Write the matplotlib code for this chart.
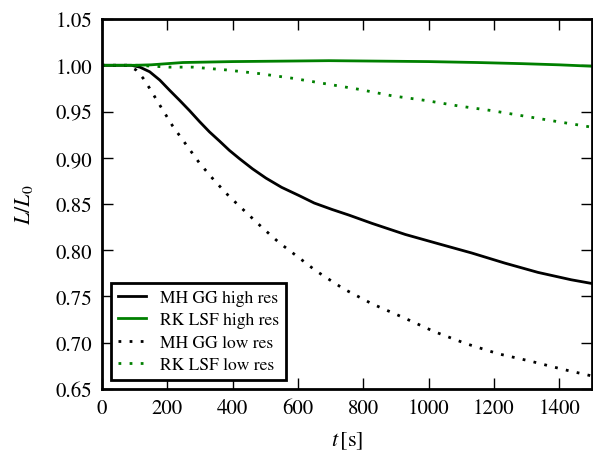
import numpy as np
import matplotlib
matplotlib.use('Agg')
import matplotlib.pyplot as plt

plt.rcParams['font.family'] = 'STIXGeneral'
plt.rcParams['mathtext.fontset'] = 'stix'

# high resolution runs
t_mh_high = [0, 90, 116, 146, 177, 207, 238, 268, 299, 329, 360, 390, 421, 461, 502, 550,
             604, 650, 705, 756, 827, 929, 1030, 1132, 1234, 1335, 1437, 1500]
L_mh_high = [1.0, 1.0, 0.998, 0.993, 0.984, 0.973, 0.962, 0.951, 0.939, 0.928, 0.918, 0.908,
             0.899, 0.888, 0.878, 0.868, 0.859, 0.851, 0.844, 0.838, 0.829, 0.817, 0.807,
             0.797, 0.786, 0.776, 0.768, 0.764]

t_rk_high = [0, 100, 150, 248, 400, 550, 695, 850, 1000, 1150, 1284, 1400, 1500]
L_rk_high = [1.0, 1.0, 1.0005, 1.003, 1.004, 1.0045, 1.005, 1.0045, 1.004, 1.003, 1.0018, 1.0005, 0.999]

# low resolution runs
t_mh_low = [0, 80, 104, 126, 146, 182, 217, 258, 299, 345, 390, 441, 492, 543, 599, 654, 710,
            741, 827, 924, 1017, 1114, 1213, 1312, 1413, 1500]
L_mh_low = [1.0, 1.0, 0.995, 0.986, 0.975, 0.954, 0.934, 0.914, 0.894, 0.875, 0.858, 0.841,
            0.824, 0.808, 0.793, 0.778, 0.765, 0.758, 0.742, 0.727, 0.712, 0.699, 0.688, 0.680,
            0.671, 0.664]

t_rk_low = [0, 106, 207, 278, 380, 482, 583, 685, 787, 888, 990, 1092, 1193, 1294, 1396, 1467, 1500]
L_rk_low = [1.0, 1.0, 0.998, 0.998, 0.995, 0.991, 0.986, 0.980, 0.974, 0.967, 0.962, 0.956,
            0.951, 0.945, 0.939, 0.935, 0.933]

fig = plt.figure(figsize=(5.93, 4.56), dpi=100)
ax = fig.add_axes([0.172, 0.145, 0.826, 0.811])

ax.plot(t_mh_high, L_mh_high, color='black', lw=2, label='MH GG high res')
ax.plot(t_rk_high, L_rk_high, color='green', lw=2, label='RK LSF high res')
ax.plot(t_mh_low, L_mh_low, color='black', lw=2, ls=(0, (1, 3)), label='MH GG low res')
ax.plot(t_rk_low, L_rk_low, color='green', lw=2, ls=(0, (1, 3)), label='RK LSF low res')

ax.set_xlim(0, 1500)
ax.set_ylim(0.65, 1.05)
ax.set_xticks(np.arange(0, 1401, 200))
ax.set_yticks(np.arange(0.65, 1.051, 0.05))
ax.yaxis.set_major_formatter(matplotlib.ticker.FormatStrFormatter('%.2f'))
ax.tick_params(direction='in', top=True, right=True, length=8, width=1,
               labelsize=15, pad=7)
for s in ax.spines.values():
    s.set_linewidth(2)

ax.set_xlabel(r'$t\,[\mathrm{s}]$', fontsize=16, labelpad=8)
ax.set_ylabel(r'$L/L_0$', fontsize=16, labelpad=15)

leg = ax.legend(loc='lower left', fontsize=12.6, fancybox=False, handlelength=1.6,
                borderaxespad=0.5, labelspacing=0.35)
leg.get_frame().set_edgecolor('black')
leg.get_frame().set_linewidth(2)
leg.get_frame().set_alpha(1)

fig.savefig('out.png', dpi=100)
